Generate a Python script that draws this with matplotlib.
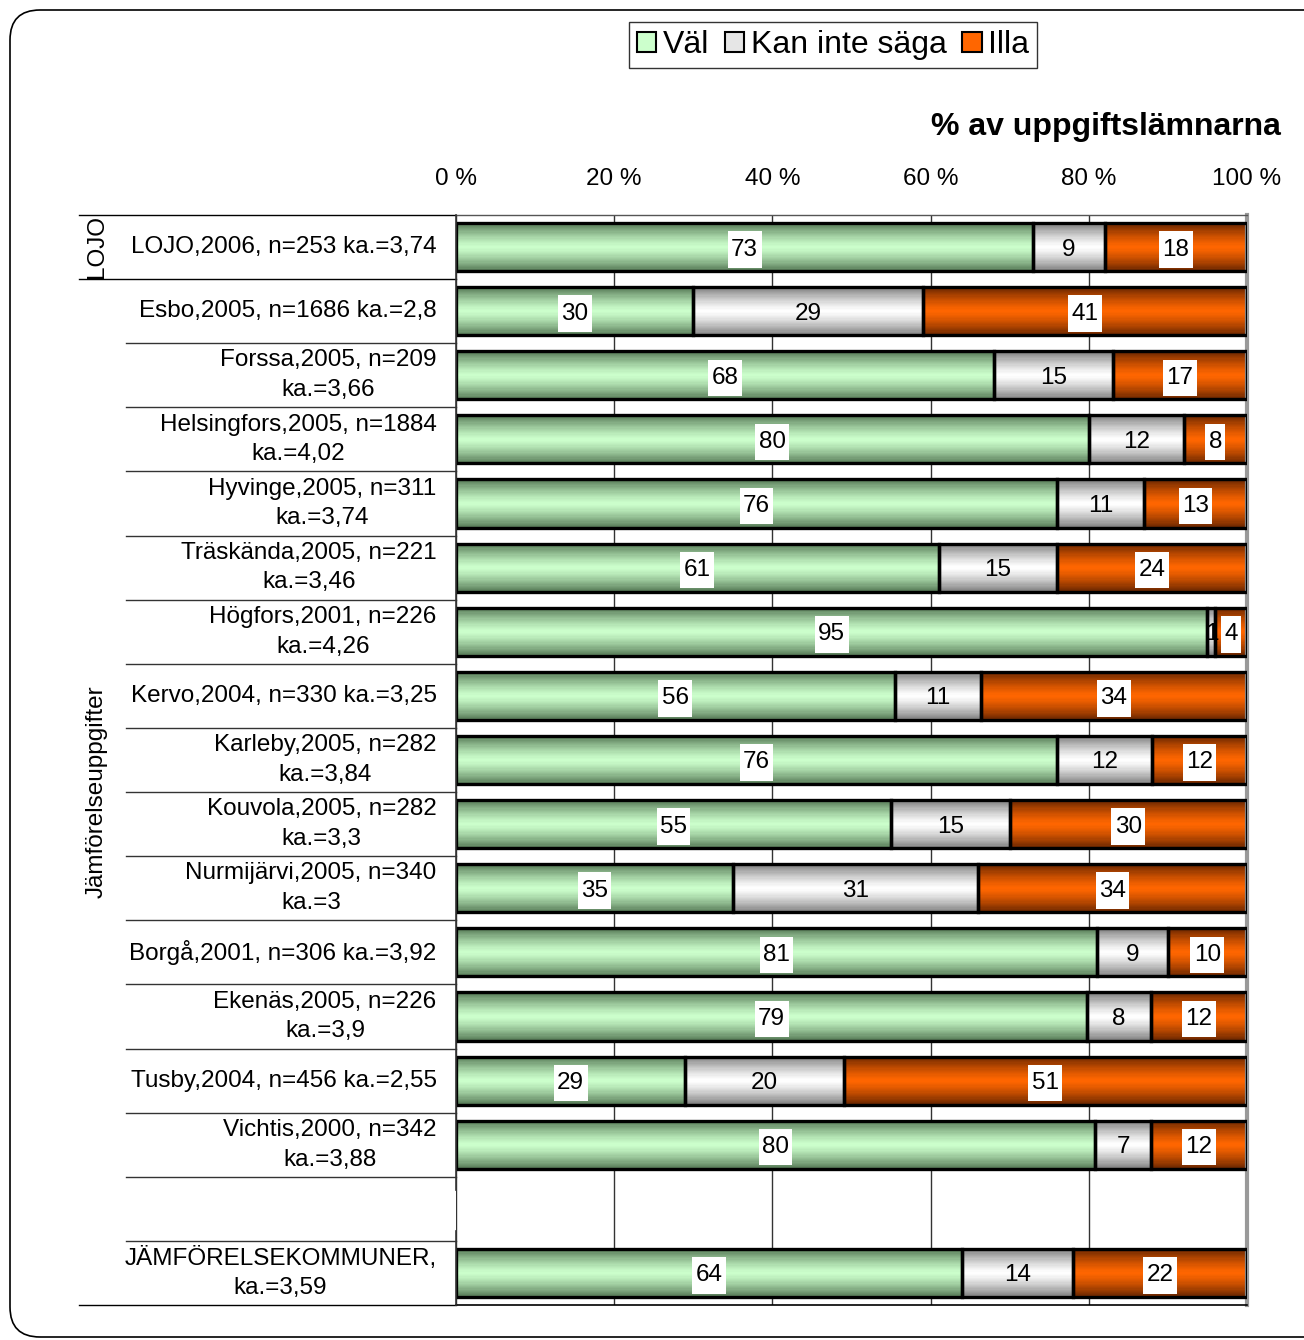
import numpy as np
import matplotlib
matplotlib.use("Agg")
import matplotlib.pyplot as plt
from matplotlib import transforms
from matplotlib.patches import Patch, FancyBboxPatch
from matplotlib.path import Path

plt.rcParams['font.family'] = ['Liberation Sans', 'DejaVu Sans']

W, H, DPI = 1304, 1340, 100

# data
categories = ["LOJO,2006, n=253 ka.=3,74",
              "Esbo,2005, n=1686 ka.=2,8",
              "Forssa,2005, n=209\nka.=3,66",
              "Helsingfors,2005, n=1884\nka.=4,02",
              "Hyvinge,2005, n=311\nka.=3,74",
              "Träskända,2005, n=221\nka.=3,46",
              "Högfors,2001, n=226\nka.=4,26",
              "Kervo,2004, n=330 ka.=3,25",
              "Karleby,2005, n=282\nka.=3,84",
              "Kouvola,2005, n=282\nka.=3,3",
              "Nurmijärvi,2005, n=340\nka.=3",
              "Borgå,2001, n=306 ka.=3,92",
              "Ekenäs,2005, n=226\nka.=3,9",
              "Tusby,2004, n=456 ka.=2,55",
              "Vichtis,2000, n=342\nka.=3,88",
              "JÄMFÖRELSEKOMMUNER,\nka.=3,59"]
val = [73, 30, 68, 80, 76, 61, 95, 56, 76, 55, 35, 81, 79, 29, 80, 64]
kan = [9, 29, 15, 12, 11, 15, 1, 11, 12, 15, 31, 9, 8, 20, 7, 14]
illa = [18, 41, 17, 8, 13, 24, 4, 34, 12, 30, 34, 10, 12, 51, 12, 22]
series_names = ["Väl", "Kan inte säga", "Illa"]
xticks = [0, 20, 40, 60, 80, 100]

# slot 15 is left empty between the municipalities and the total
pos = np.array(list(range(15)) + [16], dtype=float)

# 100 % stacked
raw = np.array([val, kan, illa], dtype=float)
pct = raw / raw.sum(axis=0) * 100

fig = plt.figure(figsize=(W / DPI, H / DPI), dpi=DPI)
ax = fig.add_axes([456 / W, 1 - 1305 / H, (1247 - 456) / W, (1305 - 215) / H])

# gradient colours: (edge, centre)
grads = [((85, 120, 85), (204, 255, 204)),
         ((125, 125, 125), (255, 255, 255)),
         ((105, 38, 0), (255, 102, 0))]

def grad_col(edge, centre, t):
    f = 1 - abs(2 * t - 1) ** 1.3
    e = np.array(edge) / 255.0
    c = np.array(centre) / 255.0
    return tuple(e + (c - e) * f)

def tall_box(x0, y0, width, height, mutation_size):
    px = 0.14 * mutation_size
    py = 0.30 * mutation_size
    return Path([(x0 - px, y0 - py), (x0 + width + px, y0 - py),
                 (x0 + width + px, y0 + height + py), (x0 - px, y0 + height + py),
                 (x0 - px, y0 - py)], closed=True)

bh = 0.75
nstrip = 40
mids = (np.arange(nstrip) + 0.5) / nstrip

left = np.zeros(len(pos))
for i in range(3):
    # shaded fill, made of thin horizontal strips
    for t in mids:
        ax.barh(pos - bh / 2 + t * bh, pct[i], left=left, height=bh / nstrip * 1.15,
                color=grad_col(*grads[i], t), linewidth=0, zorder=2)
    bars = ax.barh(pos, pct[i], left=left, height=bh, color="none",
                   edgecolor="black", linewidth=2.4, zorder=3)
    labels = [str(int(v)) for v in raw[i]]
    if i == 1:
        txts = ax.bar_label(bars, labels=labels, label_type="center", fontsize=17.5,
                            zorder=2.5)
    else:
        txts = ax.bar_label(bars, labels=labels, label_type="center", fontsize=17.5,
                            zorder=2.5,
                            bbox=dict(boxstyle=tall_box, facecolor="white", edgecolor="none"))
    for t in txts:
        t.set_va("center_baseline")
    left = left + pct[i]

ax.set_xlim(0, 100)
ax.set_ylim(16.5, -0.5)

ax.xaxis.tick_top()
ax.set_xticks(xticks, [f"{x} %" for x in xticks])
ax.tick_params(axis="x", length=0, pad=18, labelsize=17.5)
ax.set_yticks(pos, categories, multialignment="center", linespacing=1.45,
              va="center")
ax.tick_params(axis="y", length=0, pad=14, labelsize=17.5)
ax.xaxis.grid(True, color="#333333", linewidth=1)
ax.set_axisbelow(True)

ax.spines["left"].set_visible(False)
ax.spines["top"].set_color("#555555")
ax.spines["top"].set_linewidth(1)
ax.spines["bottom"].set_color("black")
ax.spines["bottom"].set_linewidth(1.2)
ax.spines["right"].set_color("#999999")
ax.spines["right"].set_linewidth(3)

# left axis line, broken at the empty slot
ax.plot([0, 0], [-0.5, 14.7], color="#333333", lw=1.2, clip_on=False, zorder=5)
ax.plot([0, 0], [15.35, 16.5], color="#333333", lw=1.2, clip_on=False, zorder=5)

# row separators to the left
tr = transforms.blended_transform_factory(ax.transAxes, ax.transData)
x_long = (79 - 456) / (1247 - 456)
x_short = (126 - 456) / (1247 - 456)
for y in [-0.5, 0.5, 16.5]:
    ax.plot([x_long, 0], [y, y], color="black", lw=1, transform=tr, clip_on=False)
for y in np.arange(1.5, 16, 1.0):
    ax.plot([x_short, 0], [y, y], color="#333333", lw=1, transform=tr, clip_on=False)

# group labels
fig.text(97 / W, 1 - 247 / H, "LOJO", rotation=90, ha="center", va="center", fontsize=17.5)
fig.text(97 / W, 1 - 792 / H, "Jämförelseuppgifter", rotation=90, ha="center",
         va="center", fontsize=17.5)

# title
fig.text(1281 / W, 1 - 127 / H, "% av uppgiftslämnarna", ha="right", va="center",
         fontsize=23, fontweight="bold")

handles = [Patch(facecolor="#ccffcc", edgecolor="black", linewidth=1.5),
           Patch(facecolor="#e6e6e6", edgecolor="black", linewidth=1.5),
           Patch(facecolor="#ff6600", edgecolor="black", linewidth=1.5)]
fig.legend(handles, series_names, loc="center", bbox_to_anchor=(833 / W, 1 - 45 / H),
           ncol=3, fontsize=23, frameon=True, fancybox=False, edgecolor="black",
           handlelength=0.6, handleheight=0.6, handletextpad=0.2, columnspacing=0.5,
           borderpad=0.25, borderaxespad=0)

# rounded frame round the whole picture
frame = FancyBboxPatch((10 / DPI, 3 / DPI), 1330 / DPI, 1327 / DPI,
                       boxstyle="round,pad=0,rounding_size=0.3",
                       transform=fig.dpi_scale_trans, facecolor="none",
                       edgecolor="black", linewidth=1.2)
fig.patches.append(frame)

fig.savefig("out.png", dpi=DPI)
